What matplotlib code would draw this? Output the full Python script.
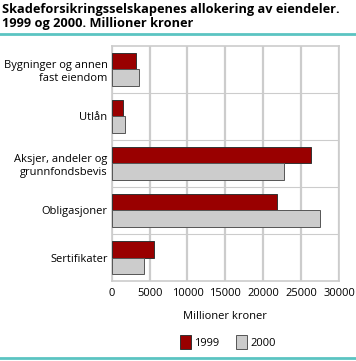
import numpy as np
import matplotlib.pyplot as plt
from matplotlib.patches import Patch
from matplotlib.lines import Line2D

categories = ["Bygninger og annen\nfast eiendom", "Utlån",
              "Aksjer, andeler og\ngrunnfondsbevis", "Obligasjoner", "Sertifikater"]
v1999 = [3150, 1450, 26250, 21750, 5550]
v2000 = [3650, 1800, 22700, 27450, 4200]
xticks = [0, 5000, 10000, 15000, 20000, 25000, 30000]

plt.rcParams['font.family'] = ['Open Sans', 'DejaVu Sans']

fig = plt.figure(figsize=(3.56, 3.61), dpi=100)
ax = fig.add_axes([0.3138, 0.2216, 0.6385, 0.651])

y = np.arange(len(categories))
h = 0.35
ax.barh(y - h / 2, v1999, height=h, color="#990000", edgecolor="#333333", linewidth=0.7, zorder=3)
ax.barh(y + h / 2, v2000, height=h, color="#cccccc", edgecolor="#555555", linewidth=0.7, zorder=3)

ax.set_xlim(0, 30000)
ax.set_ylim(len(categories) - 0.5, -0.5)
ax.set_xticks(xticks)
ax.set_xticklabels([str(t) for t in xticks], fontsize=8)
ax.set_yticks(y)
ax.set_yticklabels(categories, fontsize=8, linespacing=1.2)
ax.tick_params(axis='y', length=0, pad=3)
ax.tick_params(axis='x', length=0, pad=5)

# gridlines
ax.grid(axis='x', color="#cccccc", linewidth=1.6, zorder=0)
for b in np.arange(0.5, len(categories) - 0.5, 1):
    ax.axhline(b, color="#cccccc", linewidth=0.8, zorder=0)
for s in ax.spines.values():
    s.set_color("#cccccc")
    s.set_linewidth(1.2)

ax.set_xlabel("Millioner kroner", fontsize=8, labelpad=9)

handles = [Patch(facecolor="#990000", edgecolor="#333333", linewidth=0.7),
           Patch(facecolor="#cccccc", edgecolor="#555555", linewidth=0.7)]
fig.legend(handles, ["1999", "2000"], loc="center", bbox_to_anchor=(0.64, 0.052),
           ncol=2, frameon=False, fontsize=8, handlelength=1.0, handleheight=1.6,
           handletextpad=0.3, columnspacing=1.5)

fig.text(0.006, 0.992, "Skadeforsikringsselskapenes allokering av eiendeler.\n1999 og 2000. Millioner kroner",
         fontsize=9.2, fontweight='bold', va='top', ha='left', linespacing=1.1)
fig.add_artist(Line2D([0, 1], [1 - 34 / 361] * 2, color="#5bc4c2", linewidth=2))
fig.add_artist(Line2D([0, 1], [1 - 358 / 361] * 2, color="#5bc4c2", linewidth=2))

fig.savefig("out.png", dpi=100)
